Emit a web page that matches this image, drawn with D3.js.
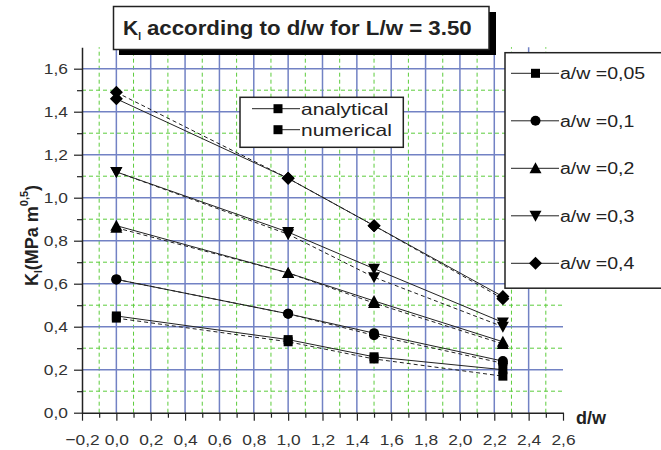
<!DOCTYPE html>
<html>
<head>
<meta charset="utf-8">
<script src="https://cdn.jsdelivr.net/npm/d3@7"></script>
<style>
  body { margin: 0; background: #fff; }
  svg { display: block; font-family: "Liberation Sans", Arial, sans-serif; }
</style>
</head>
<body>
<div id="chart"></div>
<script>
// d/w positions where K_I was evaluated
const dw = [0, 1, 1.5, 2.25];

// crack depth ratios a/w
const ratioLabels = ['a/w =0,05', 'a/w =0,1', 'a/w =0,2', 'a/w =0,3', 'a/w =0,4'];
const symbols = ['square', 'circle', 'triUp', 'triDown', 'diamond'];

// K_I values (MPa m^0,5), one array per a/w
const analytical = [
  [0.45, 0.34, 0.26, 0.20],
  [0.62, 0.46, 0.37, 0.24],
  [0.87, 0.65, 0.52, 0.33],
  [1.12, 0.84, 0.67, 0.42],
  [1.46, 1.09, 0.87, 0.54]
];
const numerical = [
  [0.44, 0.33, 0.25, 0.17],
  [0.62, 0.46, 0.36, 0.23],
  [0.86, 0.65, 0.51, 0.32],
  [1.12, 0.83, 0.63, 0.40],
  [1.49, 1.09, 0.87, 0.53]
];

const xMajor = d3.range(-0.2, 2.61, 0.2).map(v => +v.toFixed(1));
const xMinor = d3.range(-0.1, 2.6, 0.2).map(v => +v.toFixed(1));
const yMajor = d3.range(0, 1.61, 0.2).map(v => +v.toFixed(1));
const yMinor = d3.range(0.1, 1.6, 0.2).map(v => +v.toFixed(1));

const W = 661, H = 450;
const blue = '#7282c4';
const green = '#5ccc3c';
const ink = '#222';

const svg = d3.select('#chart').append('svg')
  .attr('width', W).attr('height', H);

const x = d3.scaleLinear().domain([-0.2, 2.6]).range([82, 563]);
const y = d3.scaleLinear().domain([0, 1.7]).range([412.7, 47.2]);
const comma = v => d3.format('.1f')(v).replace('.', ',');

// the original figure is a bit wider than tall, so its glyphs look stretched
function widen(sel, k) {
  sel.each(function () {
    const len = this.getComputedTextLength();
    d3.select(this).attr('textLength', len * k).attr('lengthAdjust', 'spacingAndGlyphs');
  });
}

// grid: dashed green minors, solid blue majors
const grid = svg.append('g');
grid.selectAll('.gxm').data(xMinor).join('line')
  .attr('x1', d => x(d)).attr('x2', d => x(d))
  .attr('y1', y(0)).attr('y2', y(1.7))
  .attr('stroke', green).attr('stroke-dasharray', '4,3');
grid.selectAll('.gym').data(yMinor).join('line')
  .attr('x1', x(-0.2)).attr('x2', x(2.6))
  .attr('y1', d => y(d)).attr('y2', d => y(d))
  .attr('stroke', green).attr('stroke-dasharray', '4,3');
grid.selectAll('.gx').data(xMajor.filter(v => v > -0.2 && v < 2.6)).join('line')
  .attr('x1', d => x(d)).attr('x2', d => x(d))
  .attr('y1', y(0)).attr('y2', y(1.7))
  .attr('stroke', blue).attr('stroke-width', 1.5);
grid.selectAll('.gy').data(yMajor.filter(v => v > 0)).join('line')
  .attr('x1', x(-0.2)).attr('x2', x(2.6))
  .attr('y1', d => y(d)).attr('y2', d => y(d))
  .attr('stroke', blue).attr('stroke-width', 1.5);

// axes
const xAxis = d3.axisBottom(x).tickValues(xMajor).tickFormat(comma).tickSize(8).tickSizeOuter(0);
const yAxis = d3.axisLeft(y).tickValues(yMajor).tickFormat(comma).tickSize(8).tickSizeOuter(0);
const xg = svg.append('g').attr('transform', `translate(0,${y(0)})`).call(xAxis);
const yg = svg.append('g').attr('transform', `translate(${x(-0.2)},0)`).call(yAxis);
svg.append('g').attr('transform', `translate(0,${y(0)})`)
  .call(d3.axisBottom(x).tickValues(xMinor).tickFormat('').tickSize(5).tickSizeOuter(0))
  .select('.domain').remove();
svg.append('g').attr('transform', `translate(${x(-0.2)},0)`)
  .call(d3.axisLeft(y).tickValues(yMinor).tickFormat('').tickSize(5).tickSizeOuter(0))
  .select('.domain').remove();
svg.selectAll('.tick line').attr('stroke', ink).attr('stroke-width', 1.2);
svg.selectAll('.domain').attr('stroke', ink).attr('stroke-width', 1.5);
xg.selectAll('text').attr('fill', '#333').style('font-size', '15.5px').attr('dy', '1.35em');
yg.selectAll('text').attr('fill', '#333').style('font-size', '15.5px').attr('dx', '-0.2em');
widen(xg.selectAll('text'), 1.12);
widen(yg.selectAll('text'), 1.12);

// axis titles
svg.append('text').attr('x', 576).attr('y', 424)
  .attr('fill', ink).style('font-size', '18px').style('font-weight', 'bold').text('d/w');

const yl = svg.append('text').attr('transform', 'translate(38,286) rotate(-90)')
  .attr('fill', ink).style('font-size', '18px').style('font-weight', 'bold');
yl.append('tspan').text('K');
yl.append('tspan').attr('dy', 4).style('font-size', '10px').text('I');
yl.append('tspan').attr('dy', -4).text('(MPa m');
yl.append('tspan').attr('dy', -10).style('font-size', '11px').text('0,5');
yl.append('tspan').attr('dy', 10).text(')');

// markers
function marker(sel, type, cx, cy) {
  const g = sel.append('g').attr('transform', `translate(${cx},${cy})`).attr('fill', '#000');
  if (type === 'square') g.append('rect').attr('x', -4.5).attr('y', -4.5).attr('width', 9).attr('height', 9);
  if (type === 'circle') g.append('circle').attr('r', 5);
  if (type === 'triUp') g.append('path').attr('d', 'M0,-6L6,5L-6,5Z');
  if (type === 'triDown') g.append('path').attr('d', 'M0,6L6,-5L-6,-5Z');
  if (type === 'diamond') g.append('path').attr('d', 'M0,-6.5L6.5,0L0,6.5L-6.5,0Z');
}

const line = d3.line().x(d => x(d[0])).y(d => y(d[1]));
const plot = svg.append('g');
analytical.forEach((vals, i) => {
  const pts = dw.map((d, j) => [d, vals[j]]);
  const pts2 = dw.map((d, j) => [d, numerical[i][j]]);
  plot.append('path').datum(pts2).attr('d', line)
    .attr('fill', 'none').attr('stroke', ink).attr('stroke-width', 1).attr('stroke-dasharray', '4,3');
  plot.append('path').datum(pts).attr('d', line)
    .attr('fill', 'none').attr('stroke', ink).attr('stroke-width', 1);
  pts.forEach(p => marker(plot, symbols[i], x(p[0]), y(p[1])));
  pts2.forEach(p => marker(plot, symbols[i], x(p[0]), y(p[1])));
});

// a/w legend
const leg = svg.append('g');
leg.append('rect').attr('x', 505).attr('y', 52.7).attr('width', 170).attr('height', 235.5)
  .attr('fill', '#fff').attr('stroke', ink).attr('stroke-width', 1.5);
ratioLabels.forEach((lab, i) => {
  const ly = 73.3 + i * 47.5;
  leg.append('line').attr('x1', 511).attr('x2', 559).attr('y1', ly).attr('y2', ly)
    .attr('stroke', ink).attr('stroke-width', 1);
  marker(leg, symbols[i], 535.5, ly);
  leg.append('text').attr('x', 560).attr('y', ly + 6)
    .attr('fill', ink).style('font-size', '16px').text(lab);
});
widen(leg.selectAll('text'), 1.22);

// method legend
const leg2 = svg.append('g');
leg2.append('rect').attr('x', 240).attr('y', 97.3).attr('width', 163.3).attr('height', 50)
  .attr('fill', '#fff').attr('stroke', ink).attr('stroke-width', 1.5);
[['analytical', 252], ['numerical', 278]].forEach(([lab, x0], i) => {
  const ly = 108.7 + i * 21;
  leg2.append('line').attr('x1', x0).attr('x2', 300).attr('y1', ly).attr('y2', ly)
    .attr('stroke', ink).attr('stroke-width', 1);
  marker(leg2, 'square', 278, ly);
  leg2.append('text').attr('x', 301).attr('y', ly + 6)
    .attr('fill', ink).style('font-size', '16.5px').text(lab);
});
widen(leg2.selectAll('text'), 1.27);

// title box with drop shadow
const tb = svg.append('g');
tb.append('rect').attr('x', 119).attr('y', 12).attr('width', 377).attr('height', 43).attr('fill', '#000');
tb.append('rect').attr('x', 113.5).attr('y', 6.5).attr('width', 375.5).attr('height', 43)
  .attr('fill', '#fff').attr('stroke', ink).attr('stroke-width', 1.5);
const tt = tb.append('text').attr('x', 123).attr('y', 35)
  .attr('fill', ink).style('font-size', '21px').style('font-weight', 'bold');
tt.append('tspan').text('K');
tt.append('tspan').attr('dy', 5).style('font-size', '10px').text('I');
const ttRest = tt.append('tspan').attr('dy', -5).attr('dx', 6).text('according to d/w for L/w = 3.50');
widen(ttRest, 1.06);
</script>
</body>
</html>
